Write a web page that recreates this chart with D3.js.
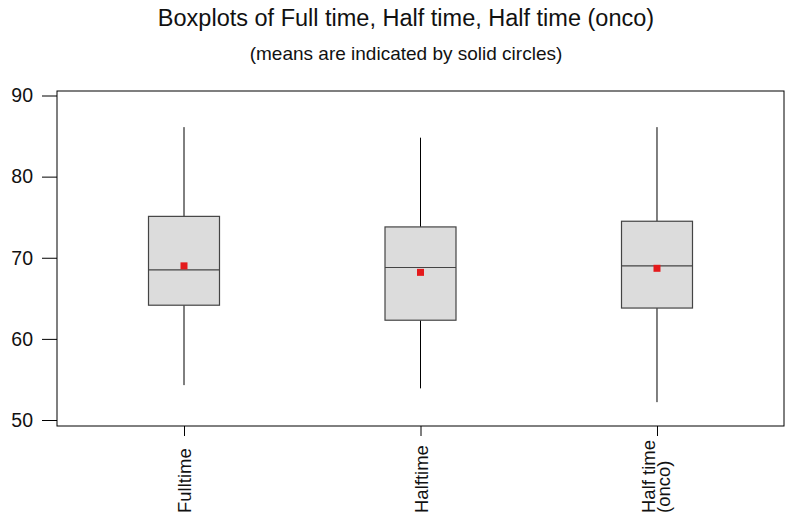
<!DOCTYPE html>
<html><head><meta charset="utf-8">
<script src="https://cdn.jsdelivr.net/npm/d3@7/dist/d3.min.js"></script>
<style>body{margin:0;background:#fff}svg{display:block;font-family:"Liberation Sans",Arial,Helvetica,sans-serif}</style>
</head><body><svg id="c" width="789" height="520"></svg>
<script>
const categories = ["Fulltime", "Halftime", "Half time (onco)"];
const categoryLines = [["Fulltime"], ["Halftime"], ["Half time", "(onco)"]];
const whiskerLow = [54.3, 53.9, 52.2];
const q1 = [64.15, 62.3, 63.8];
const median = [68.5, 68.8, 69.0];
const q3 = [75.1, 73.8, 74.5];
const whiskerHigh = [86.1, 84.8, 86.1];
const means = [69.0, 68.2, 68.7];
const yTicks = [50, 60, 70, 80, 90];

const svg = d3.select("#c");
const L = 57, R = 784, T = 91, B = 426;
const y = d3.scaleLinear().domain([50, 90]).range([420, 95.5]);
const x = d3.scalePoint().domain(categories).range([L, R]).padding(0.537);
const bw = 71;

svg.append("text").attr("x", 406).attr("y", 26).attr("text-anchor", "middle")
  .attr("font-size", 23.5).attr("fill", "#111").text("Boxplots of Full time, Half time, Half time (onco)");
svg.append("text").attr("x", 406).attr("y", 60).attr("text-anchor", "middle")
  .attr("font-size", 19).attr("fill", "#111").text("(means are indicated by solid circles)");

svg.append("rect").attr("x", L).attr("y", T).attr("width", R - L).attr("height", B - T)
  .attr("fill", "none").attr("stroke", "#000").attr("stroke-width", 1);

// y axis
const yAxis = d3.axisLeft(y).tickValues(yTicks).tickSize(15).tickPadding(9).tickFormat(d3.format("d"));
const ya = svg.append("g").attr("transform", `translate(${L},0)`).call(yAxis);
ya.select(".domain").remove();
ya.selectAll("text").attr("font-size", 19.5).attr("fill", "#111").attr("font-family", "Liberation Sans, Arial, sans-serif");
ya.selectAll("line").attr("stroke", "#000");

// x axis
const xAxis = d3.axisBottom(x).tickSize(10).tickFormat("");
const xa = svg.append("g").attr("transform", `translate(0,${B})`).call(xAxis);
xa.select(".domain").remove();
xa.selectAll("line").attr("stroke", "#000");

categories.forEach((c, i) => {
  const lines = categoryLines[i];
  const cx = x(c);
  lines.forEach((ln, j) => {
    const bx = lines.length === 1 ? cx + 7 : cx - 2 + j * 15;
    svg.append("text").attr("transform", `translate(${bx},513) rotate(-90)`)
      .attr("text-anchor", "start").attr("font-size", 18.5).attr("fill", "#111").text(ln);
  });
});

const g = svg.append("g");
categories.forEach((c, i) => {
  const cx = x(c);
  g.append("line").attr("x1", cx).attr("x2", cx).attr("y1", y(whiskerHigh[i])).attr("y2", y(q3[i])).attr("stroke", "#000");
  g.append("line").attr("x1", cx).attr("x2", cx).attr("y1", y(q1[i])).attr("y2", y(whiskerLow[i])).attr("stroke", "#000");
  g.append("rect").attr("x", cx - bw / 2).attr("y", y(q3[i])).attr("width", bw).attr("height", y(q1[i]) - y(q3[i]))
    .attr("fill", "#dcdcdc").attr("stroke", "#444").attr("stroke-width", 1.2);
  g.append("line").attr("x1", cx - bw / 2).attr("x2", cx + bw / 2).attr("y1", y(median[i])).attr("y2", y(median[i]))
    .attr("stroke", "#444").attr("stroke-width", 1.2);
  g.append("rect").attr("x", cx - 3.5).attr("y", y(means[i]) - 3.5).attr("width", 7).attr("height", 7).attr("fill", "#e41a1c");
});
</script></body></html>
